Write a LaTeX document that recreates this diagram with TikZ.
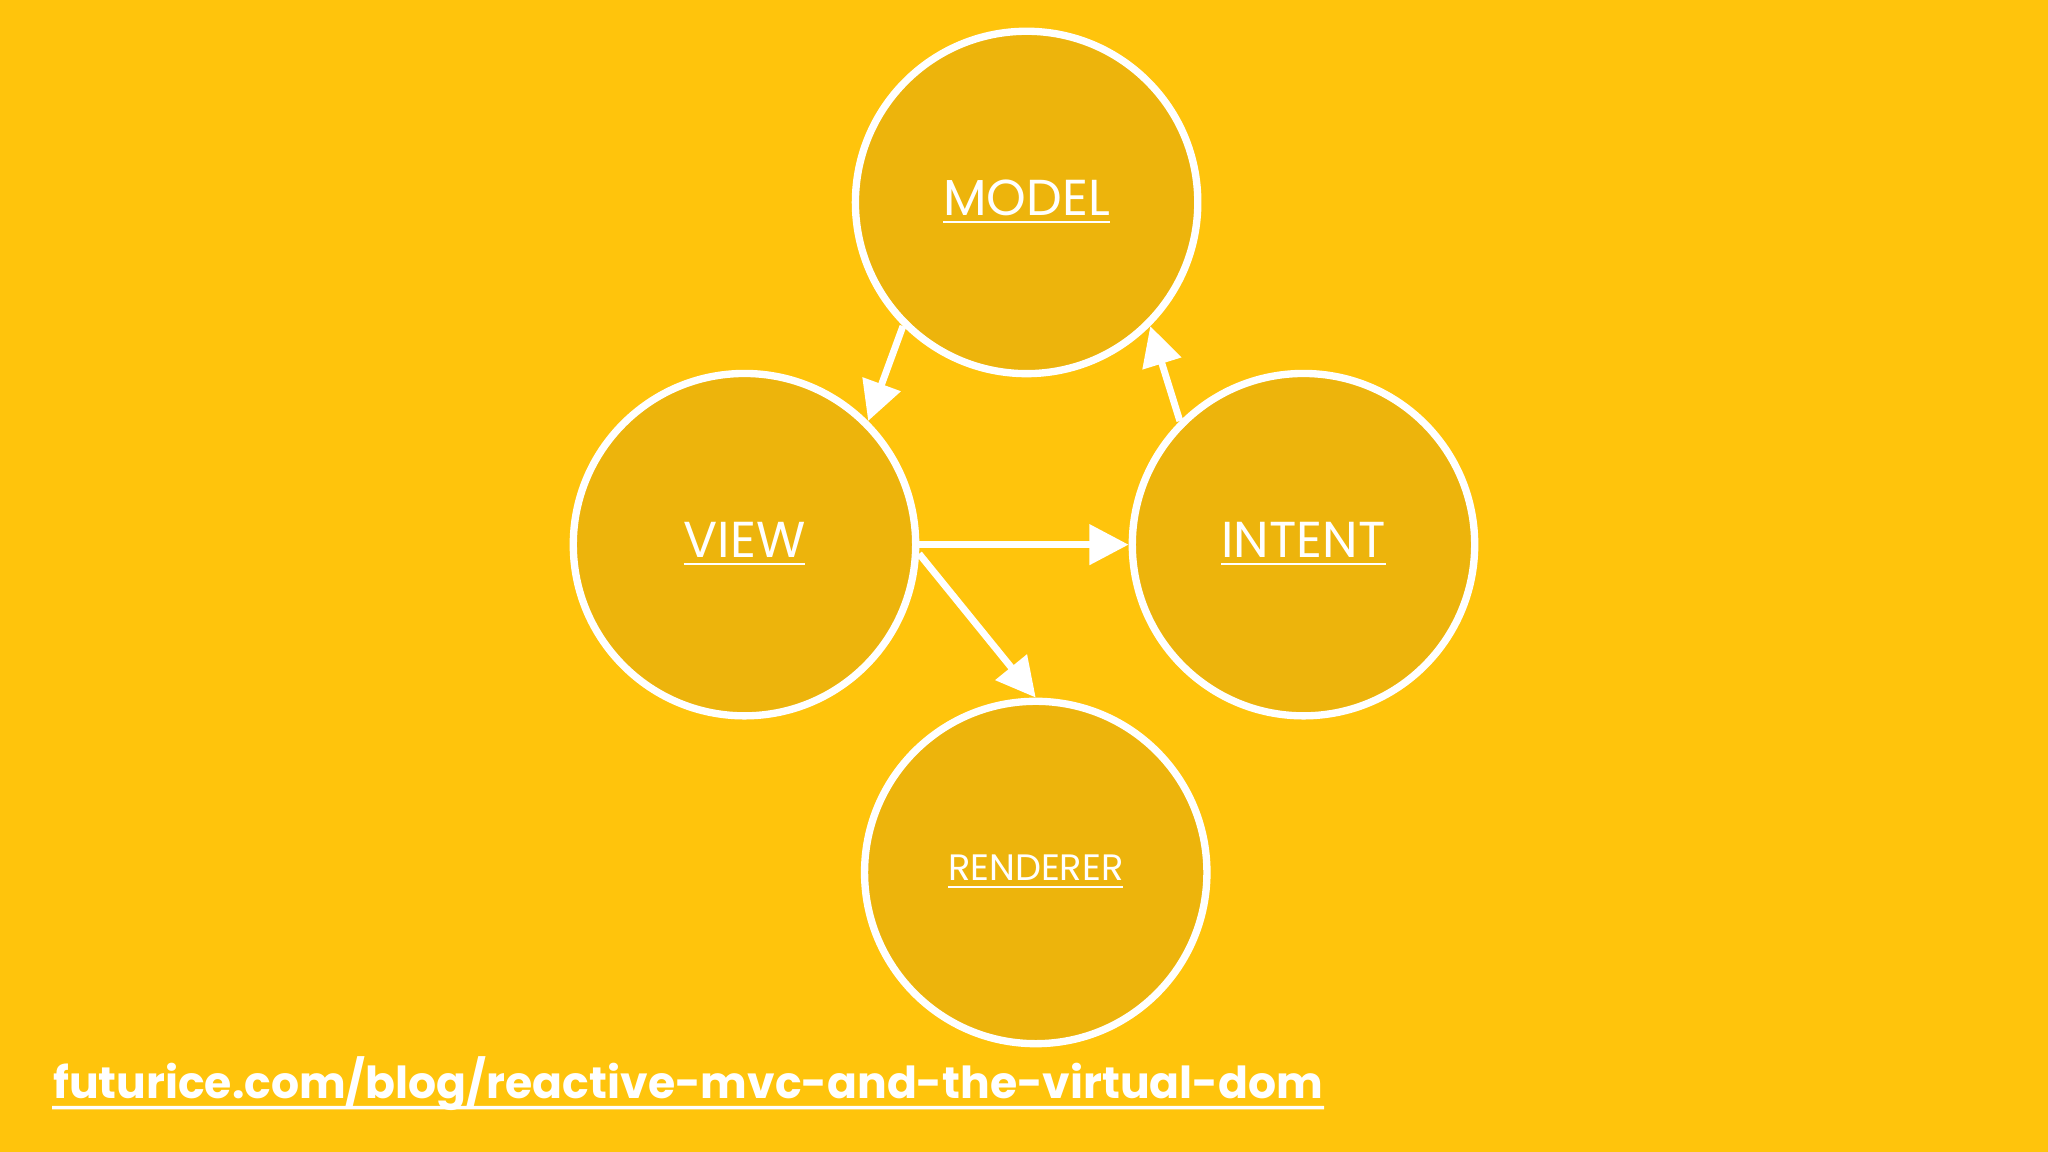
\documentclass[tikz,border=0pt]{standalone}
\usepackage{fontspec}
\setmainfont{Poppins}
\usetikzlibrary{arrows.meta}
\definecolor{bg}{HTML}{FFC40C}
\definecolor{cf}{HTML}{EDB40C}
\tikzset{
  bubble/.style={circle,draw=white,fill=cf,line width=1.6pt,minimum size=2.62cm,inner sep=0pt,text=white},
  conn/.style={draw=white,line width=1.5pt,-{Triangle[length=0.3cm,width=0.3cm]}}
}
\newcommand{\ul}[1]{\underline{#1}}
\begin{document}
\begin{tikzpicture}[x=0.01cm,y=-0.01cm]
\fill[bg] (0,0) rectangle (1568,882);
\node[bubble,font=\fontsize{11}{12}\selectfont] (model) at (786,155) {\ul{MODEL}};
\node[bubble,font=\fontsize{11}{12}\selectfont] (view) at (570,417) {\ul{VIEW}};
\node[bubble,font=\fontsize{11}{12}\selectfont] (intent) at (998,417) {\ul{INTENT}};
\node[bubble,font=\fontsize{8}{9}\selectfont] (rend) at (793,668) {\ul{RENDERER}};
\draw[conn] (model.225) -- (view.45);
\draw[conn] (intent.135) -- (model.-45);
\draw[conn] (view.east) -- (intent.west);
\draw[conn] (view.-3) -- (rend.north);
\node[anchor=base west,text=white,inner sep=0pt,font=\fontsize{9.6}{11}\selectfont\bfseries] (url) at (40,841) {futurice.com/blog/reactive-mvc-and-the-virtual-dom};
\draw[white,line width=0.8pt] (url.base west) ++(0,7) -- ([yshift=-0.07cm]url.base east);
\end{tikzpicture}
\end{document}
